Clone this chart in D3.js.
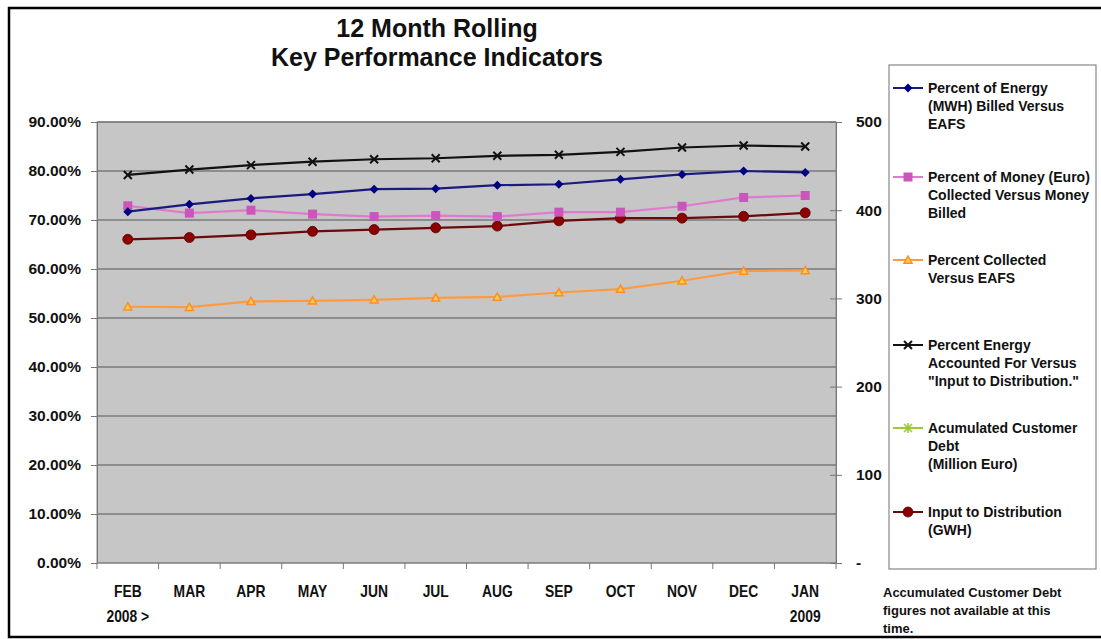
<!DOCTYPE html>
<html>
<head>
<meta charset="utf-8">
<script src="https://cdnjs.cloudflare.com/ajax/libs/d3/7.8.5/d3.min.js"></script>
<style>
  body { margin: 0; background: #fff; }
  text { font-family: "Liberation Sans", Arial, sans-serif; font-weight: bold; fill: #111; }
</style>
</head>
<body>
<script>
// months, Feb 2008 -> Jan 2009
var months = ["FEB","MAR","APR","MAY","JUN","JUL","AUG","SEP","OCT","NOV","DEC","JAN"];

// percent series (left axis)
var energyBilled   = [71.7, 73.2, 74.4, 75.3, 76.3, 76.4, 77.1, 77.3, 78.3, 79.3, 80.0, 79.7];
var moneyCollected = [72.9, 71.4, 72.0, 71.2, 70.7, 70.9, 70.7, 71.6, 71.6, 72.8, 74.6, 75.0];
var collectedEafs  = [52.3, 52.2, 53.4, 53.5, 53.7, 54.1, 54.3, 55.2, 55.9, 57.6, 59.6, 59.7];
var energyAccounted = [79.2, 80.3, 81.2, 81.9, 82.4, 82.6, 83.1, 83.3, 83.9, 84.8, 85.2, 85.0];
// right axis series
var customerDebt = []; // not available
var inputGwh = [367, 369, 372, 376, 378, 380, 382, 388, 391, 391, 393, 397];

var leftTicks = [0, 10, 20, 30, 40, 50, 60, 70, 80, 90];
var rightTicks = [0, 100, 200, 300, 400, 500];

var width = 1101, height = 639;
var svg = d3.select("body").append("svg").attr("width", width).attr("height", height);

// outer frame
svg.append("rect").attr("x", 9).attr("y", 8).attr("width", 1100).attr("height", 629)
  .attr("fill", "none").attr("stroke", "#000").attr("stroke-width", 2.5);

// title
svg.append("text").attr("x", 437).attr("y", 37).attr("text-anchor", "middle")
  .style("font-size", "25px").text("12 Month Rolling");
svg.append("text").attr("x", 437).attr("y", 66).attr("text-anchor", "middle")
  .style("font-size", "25px").text("Key Performance Indicators");

var pLeft = 97, pRight = 836, pTop = 122, pBottom = 563;

var x = d3.scaleBand().domain(months).range([pLeft, pRight]);
var xc = function (m) { return x(m) + x.bandwidth() / 2; };
var yL = d3.scaleLinear().domain([0, 90]).range([pBottom, pTop]);
var yR = d3.scaleLinear().domain([0, 500]).range([pBottom, pTop]);

// plot area
svg.append("rect").attr("x", pLeft).attr("y", pTop).attr("width", pRight - pLeft).attr("height", pBottom - pTop)
  .attr("fill", "#c6c6c6").attr("stroke", "#8a8a8a").attr("stroke-width", 1);

// gridlines
svg.selectAll(".grid").data(leftTicks.slice(1)).enter().append("line")
  .attr("x1", pLeft).attr("x2", pRight)
  .attr("y1", function (d) { return yL(d); }).attr("y2", function (d) { return yL(d); })
  .attr("stroke", "#7a7a7a").attr("stroke-width", 1.3);

// left axis
var gL = svg.append("g").attr("transform", "translate(" + pLeft + ",0)")
  .call(d3.axisLeft(yL).tickValues(leftTicks).tickSize(6).tickPadding(10)
    .tickFormat(function (d) { return d3.format(".2f")(d) + "%"; }));
gL.select(".domain").attr("stroke", "#777");
gL.selectAll(".tick line").attr("stroke", "#777");
gL.selectAll("text").style("font-size", "15.5px").style("font-weight", "bold")
  .style("font-family", "Liberation Sans, Arial, sans-serif").attr("fill", "#111");

// right axis
var gR = svg.append("g").attr("transform", "translate(" + pRight + ",0)")
  .call(d3.axisRight(yR).tickValues(rightTicks).tickSizeInner(6).tickSizeOuter(0).tickPadding(14)
    .tickFormat(function (d) { return d === 0 ? "-" : d; }));
gR.select(".domain").attr("stroke", "#777");
gR.selectAll(".tick line").attr("x1", -6).attr("stroke", "#777");
gR.selectAll("text").style("font-size", "15.5px").style("font-weight", "bold")
  .style("font-family", "Liberation Sans, Arial, sans-serif").attr("fill", "#111");

// x axis ticks at category boundaries
var bounds = months.map(function (m) { return x(m); }).concat([pRight]);
svg.selectAll(".xt").data(bounds).enter().append("line")
  .attr("x1", function (d) { return d; }).attr("x2", function (d) { return d; })
  .attr("y1", pBottom).attr("y2", pBottom + 6).attr("stroke", "#777");
svg.append("line").attr("x1", pLeft).attr("x2", pRight).attr("y1", pBottom).attr("y2", pBottom)
  .attr("stroke", "#777");

function narrowText(xp, yp, t) {
  svg.append("text").attr("transform", "translate(" + xp + "," + yp + ") scale(0.84,1)")
    .attr("text-anchor", "middle").style("font-size", "16.5px").text(t);
}
months.forEach(function (m) { narrowText(xc(m), 597, m); });
narrowText(xc("FEB"), 622, "2008 >");
narrowText(xc("JAN"), 622, "2009");

// symbols
function drawMarker(g, type, color, fill) {
  if (type === "diamond") {
    g.append("path").attr("d", "M0,-4.5L4.5,0L0,4.5L-4.5,0Z").attr("fill", color);
  } else if (type === "square") {
    g.append("rect").attr("x", -4.5).attr("y", -4.5).attr("width", 9).attr("height", 9).attr("fill", color);
  } else if (type === "triangle") {
    g.append("path").attr("d", "M0,-4L4,3.2L-4,3.2Z")
      .attr("fill", fill).attr("stroke", color).attr("stroke-width", 1.5);
  } else if (type === "x") {
    g.append("path").attr("d", "M-4,-4L4,4M-4,4L4,-4").attr("stroke", color).attr("stroke-width", 2);
  } else if (type === "star") {
    g.append("path").attr("d", "M-4,-4L4,4M-4,4L4,-4M0,-5L0,5").attr("stroke", color).attr("stroke-width", 1.6);
  } else if (type === "circle") {
    g.append("circle").attr("r", 5).attr("fill", color).attr("stroke", "#5a0000").attr("stroke-width", 0.8);
  }
}

var series = [
  { name: ["Percent of Energy", "(MWH) Billed Versus", "EAFS"], values: energyBilled, axis: yL, color: "#000080", line: "#1a1a80", marker: "diamond", ly: 88 },
  { name: ["Percent of Money (Euro)", "Collected Versus Money", "Billed"], values: moneyCollected, axis: yL, color: "#cc55bb", line: "#e07ad0", marker: "square", ly: 177 },
  { name: ["Percent Collected", "Versus EAFS"], values: collectedEafs, axis: yL, color: "#ff8c2a", line: "#ff9a40", marker: "triangle", fill: "#ffd040", ly: 260 },
  { name: ["Percent Energy", "Accounted For Versus", "\"Input to Distribution.\""], values: energyAccounted, axis: yL, color: "#111", line: "#111", marker: "x", ly: 345 },
  { name: ["Acumulated Customer", "Debt", "(Million Euro)"], values: customerDebt, axis: yR, color: "#99cc33", line: "#99cc33", marker: "star", ly: 428 },
  { name: ["Input to Distribution", "(GWH)"], values: inputGwh, axis: yR, color: "#8b0000", line: "#6a0a0a", marker: "circle", ly: 512 }
];

// draw series (dark red first so others sit on top)
var order = [5, 2, 1, 0, 3, 4];
order.forEach(function (i) {
  var s = series[i];
  if (!s.values.length) return;
  var line = d3.line().x(function (d, j) { return xc(months[j]); }).y(function (d) { return s.axis(d); });
  svg.append("path").datum(s.values).attr("d", line).attr("fill", "none")
    .attr("stroke", s.line).attr("stroke-width", 2.2);
  s.values.forEach(function (v, j) {
    var g = svg.append("g").attr("transform", "translate(" + xc(months[j]) + "," + s.axis(v) + ")");
    drawMarker(g, s.marker, s.color, s.fill);
  });
});

// legend
svg.append("rect").attr("x", 889).attr("y", 65).attr("width", 207).attr("height", 504)
  .attr("fill", "#fff").attr("stroke", "#888").attr("stroke-width", 1.2);
series.forEach(function (s) {
  svg.append("line").attr("x1", 893).attr("x2", 923).attr("y1", s.ly).attr("y2", s.ly)
    .attr("stroke", s.line).attr("stroke-width", 2);
  var g = svg.append("g").attr("transform", "translate(908," + s.ly + ")");
  drawMarker(g, s.marker, s.color, s.fill);
  s.name.forEach(function (t, k) {
    svg.append("text").attr("x", 928).attr("y", s.ly + 5 + k * 18).style("font-size", "14px").text(t);
  });
});

// footnote
["Accumulated Customer Debt", "figures not available at this", "time."].forEach(function (t, k) {
  svg.append("text").attr("x", 883).attr("y", 597 + k * 18).style("font-size", "13px").text(t);
});
</script>
</body>
</html>
